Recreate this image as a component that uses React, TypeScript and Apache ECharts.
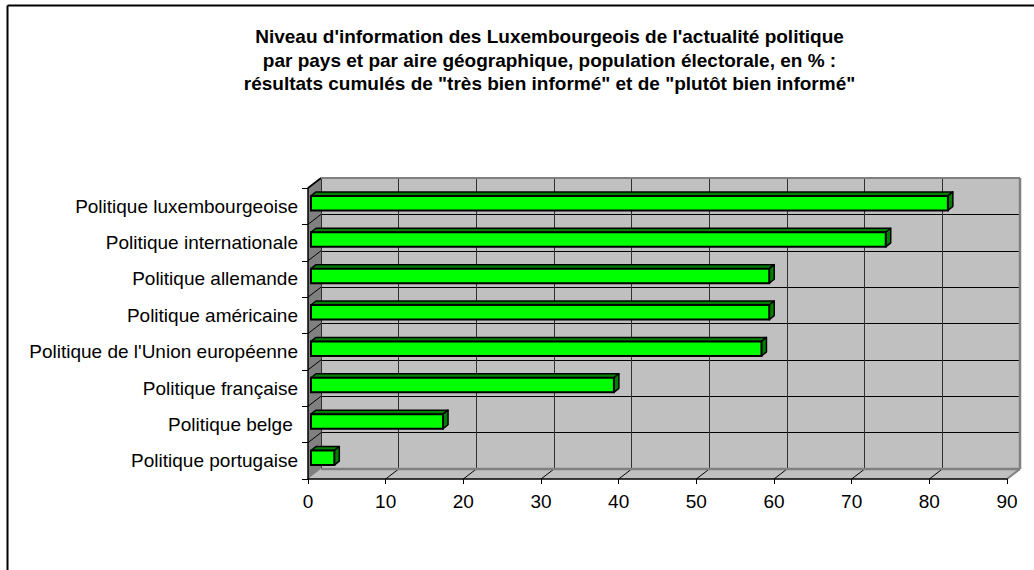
import React, { useEffect, useRef } from "react";
import * as echarts from "echarts";

const TITLE_LINES = [
  "Niveau d'information des Luxembourgeois de l'actualité politique",
  "par pays et par aire géographique, population électorale, en % :",
  "résultats cumulés de \"très bien informé\" et de \"plutôt bien informé\"",
];
const CATEGORIES = [
  "Politique luxembourgeoise",
  "Politique internationale",
  "Politique allemande",
  "Politique américaine",
  "Politique de l'Union européenne",
  "Politique française",
  "Politique belge ",
  "Politique portugaise",
];
const VALUES = [82, 74, 59, 59, 58, 39, 17, 3];
const X_MIN = 0;
const X_MAX = 90;
const X_STEP = 10;

const FONT = "'Liberation Sans', Arial, Helvetica, sans-serif";
const FRONT = { left: 308, top: 188, width: 699, height: 291 };
const DEPTH = { x: 13, y: -10 };
const BAR_SHIFT = { x: 3, y: -3 };
const BAR_DEPTH = { x: 5, y: -4 };

export default function App() {
  const ref = useRef<HTMLDivElement>(null);

  useEffect(() => {
    document.body.style.margin = "0";
    document.body.style.overflow = "hidden";
    const chart = echarts.init(ref.current!, undefined, { renderer: "svg" });

    const wallsRender = (params: any, api: any) => {
      const cs = params.coordSys;
      const L = cs.x;
      const T = cs.y;
      const R = cs.x + cs.width;
      const B = cs.y + cs.height;
      const dx = DEPTH.x;
      const dy = DEPTH.y;
      const bandH = api.size([0, 1])[1];
      const children: any[] = [];
      children.push({
        type: "polygon",
        shape: { points: [[L, B], [R, B], [R + dx, B + dy], [L + dx, B + dy]] },
        style: { fill: "#C0C0C0" },
      });
      children.push({
        type: "polygon",
        shape: { points: [[L, T], [L + dx, T + dy], [L + dx, B + dy], [L, B]] },
        style: { fill: "#808080" },
      });
      for (let v = X_MIN + X_STEP; v < X_MAX; v += X_STEP) {
        const x = api.coord([v, 0])[0];
        children.push({
          type: "line",
          shape: { x1: x, y1: B, x2: x + dx, y2: B + dy },
          style: { stroke: "#000", lineWidth: 1 },
        });
      }
      for (let k = 0; k < CATEGORIES.length; k++) {
        const y = T + k * bandH;
        children.push({
          type: "line",
          shape: { x1: L, y1: y, x2: L + dx, y2: y + dy },
          style: { stroke: "#000", lineWidth: k === 0 ? 1.6 : 1 },
        });
      }
      children.push({
        type: "line",
        shape: { x1: L + dx, y1: T + dy, x2: R + dx, y2: T + dy },
        style: { stroke: "#808080", lineWidth: 2 },
      });
      children.push({
        type: "line",
        shape: { x1: R + dx, y1: T + dy, x2: R + dx, y2: B + dy },
        style: { stroke: "#808080", lineWidth: 2.5 },
      });
      children.push({
        type: "line",
        shape: { x1: L + dx, y1: B + dy, x2: R + dx, y2: B + dy },
        style: { stroke: "#808080", lineWidth: 2.5 },
      });
      children.push({
        type: "line",
        shape: { x1: R, y1: B, x2: R + dx, y2: B + dy },
        style: { stroke: "#808080", lineWidth: 2 },
      });
      return { type: "group", children };
    };

    const barRender = (params: any, api: any) => {
      const idx = api.value(1);
      const val = api.value(0);
      const x0 = api.coord([0, idx])[0];
      const p = api.coord([val, idx]);
      const bandH = api.size([0, 1])[1];
      const h = bandH * 0.4;
      const fx0 = x0 + BAR_SHIFT.x;
      const fx1 = p[0] + BAR_SHIFT.x;
      const fy0 = p[1] + BAR_SHIFT.y - h / 2;
      const fy1 = fy0 + h;
      const ddx = BAR_DEPTH.x;
      const ddy = BAR_DEPTH.y;
      return {
        type: "group",
        children: [
          {
            type: "polygon",
            shape: { points: [[fx0, fy0], [fx1, fy0], [fx1 + ddx, fy0 + ddy], [fx0 + ddx, fy0 + ddy]] },
            style: { fill: "#008000", stroke: "#000", lineWidth: 1.5, lineJoin: "round" },
          },
          {
            type: "polygon",
            shape: { points: [[fx1, fy0], [fx1 + ddx, fy0 + ddy], [fx1 + ddx, fy1 + ddy], [fx1, fy1]] },
            style: { fill: "#008000", stroke: "#000", lineWidth: 1.5, lineJoin: "round" },
          },
          {
            type: "rect",
            shape: { x: fx0, y: fy0, width: fx1 - fx0, height: h },
            style: { fill: "#00FF00", stroke: "#000", lineWidth: 2 },
          },
        ],
      };
    };

    const titleCenters = [36.7, 60.1, 83.4];

    chart.setOption({
      animation: false,
      backgroundColor: "#fff",
      textStyle: { fontFamily: FONT },
      graphic: [
        {
          type: "rect",
          shape: { x: 1023, y: 0, width: 11, height: 570 },
          style: { fill: "#fff" },
          silent: true,
          z: 99,
        },
        {
          type: "line",
          shape: { x1: 7.5, y1: 5.5, x2: 1034, y2: 5.5 },
          style: { stroke: "#000", lineWidth: 2 },
          silent: true,
          z: 100,
        },
        {
          type: "line",
          shape: { x1: 7.5, y1: 5.5, x2: 7.5, y2: 570 },
          style: { stroke: "#000", lineWidth: 2 },
          silent: true,
          z: 100,
        },
        ...TITLE_LINES.map((t, i) => ({
          type: "text",
          x: 549.5,
          y: titleCenters[i],
          style: {
            text: t,
            fill: "#000",
            font: `bold 19px ${FONT}`,
            textAlign: "center",
            textVerticalAlign: "middle",
          },
          silent: true,
        })),
      ],
      grid: [
        { left: FRONT.left, top: FRONT.top, width: FRONT.width, height: FRONT.height },
        {
          left: FRONT.left + DEPTH.x,
          top: FRONT.top + DEPTH.y,
          width: FRONT.width,
          height: FRONT.height,
          show: true,
          backgroundColor: "#C0C0C0",
          borderWidth: 0,
        },
      ],
      xAxis: [
        {
          gridIndex: 0,
          type: "value",
          min: X_MIN,
          max: X_MAX,
          interval: X_STEP,
          z: 5,
          axisLine: { show: true, lineStyle: { color: "#000", width: 1.5 } },
          axisTick: { show: true, length: 5, lineStyle: { color: "#000", width: 1 } },
          axisLabel: { color: "#000", fontSize: 19, fontFamily: FONT, margin: 13, lineHeight: 19 },
          splitLine: { show: false },
        },
        {
          gridIndex: 1,
          type: "value",
          min: X_MIN,
          max: X_MAX,
          interval: X_STEP,
          axisLine: { show: false },
          axisTick: { show: false },
          axisLabel: { show: false },
          splitLine: { show: true, lineStyle: { color: "#303030", width: 1 } },
        },
      ],
      yAxis: [
        {
          gridIndex: 0,
          type: "category",
          data: CATEGORIES,
          inverse: true,
          z: 5,
          axisLine: { show: true, lineStyle: { color: "#000", width: 1.5 } },
          axisTick: { show: true, length: 6, lineStyle: { color: "#000", width: 1 } },
          axisLabel: { color: "#000", fontSize: 19, fontFamily: FONT, margin: 10 },
          splitLine: { show: false },
        },
        {
          gridIndex: 1,
          type: "category",
          data: CATEGORIES,
          inverse: true,
          axisLine: { show: false },
          axisTick: { show: false },
          axisLabel: { show: false },
          splitLine: { show: true, lineStyle: { color: "#000", width: 1 } },
        },
      ],
      series: [
        {
          type: "custom",
          xAxisIndex: 0,
          yAxisIndex: 0,
          z: 1,
          silent: true,
          renderItem: wallsRender,
          data: [[0, 0]],
          encode: { x: 0, y: 1 },
        },
        {
          type: "custom",
          xAxisIndex: 0,
          yAxisIndex: 0,
          z: 3,
          renderItem: barRender,
          data: VALUES.map((v, i) => [v, i]),
          encode: { x: 0, y: 1 },
        },
      ],
    });

    return () => chart.dispose();
  }, []);

  return (
    <div
      ref={ref}
      style={{ position: "absolute", left: 0, top: 0, width: 1034, height: 570 }}
    />
  );
}
